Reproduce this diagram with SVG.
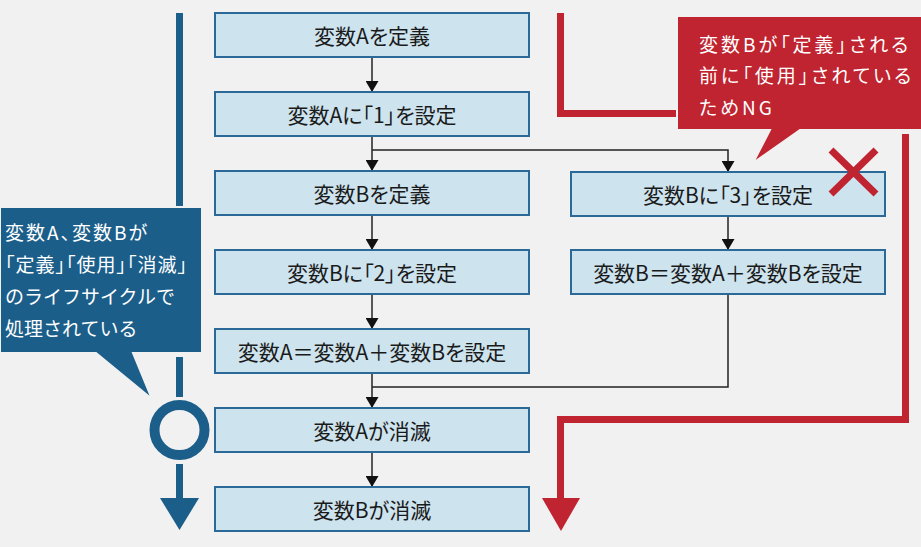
<svg xmlns="http://www.w3.org/2000/svg" width="921" height="547" viewBox="0 0 921 547">
<defs>
<style>
.box{fill:#cde3ee;stroke:#2b6a98;stroke-width:2}
.bt{font-family:"Noto Sans CJK JP","Noto Sans",sans-serif;font-size:21px;fill:#1a1a1a;text-anchor:middle;dominant-baseline:central;font-feature-settings:"palt"}
.conn{fill:none;stroke:#222;stroke-width:1.5}
.ct{font-family:"Noto Sans CJK JP","Noto Sans",sans-serif;font-size:19px;fill:#fff;dominant-baseline:central}
.p{font-feature-settings:"palt"}
</style>
<marker id="ah" viewBox="0 0 11 13" refX="11" refY="6.5" markerWidth="11" markerHeight="13" markerUnits="userSpaceOnUse" orient="auto">
<path d="M0,0 L11,6.5 L0,13 Z" fill="#111"/>
</marker>
</defs>
<rect x="0" y="0" width="921" height="547" fill="#f1f1f1"/>

<g id="lifeline-ok">
<path d="M179.5,13 V207 M179.5,357 V397 M179.5,464 V500" fill="none" stroke="#1c5e8a" stroke-width="7"/>
<circle cx="179.5" cy="430" r="25" fill="none" stroke="#1c5e8a" stroke-width="10"/>
<path d="M160,498 L199,498 L179.5,530 Z" fill="#1c5e8a"/>
</g>

<g id="lifeline-ng">
<path d="M560.5,13 V113.5 H678" fill="none" stroke="#bf2430" stroke-width="7"/>
<path d="M905.5,134 V419.5 H560.5 V500" fill="none" stroke="#bf2430" stroke-width="7"/>
<path d="M542,498 L580,498 L561,531 Z" fill="#bf2430"/>
</g>

<g id="connectors">
<path class="conn" d="M372,57 V92" marker-end="url(#ah)"/>
<path class="conn" d="M372,136 V171" marker-end="url(#ah)"/>
<path class="conn" d="M372,150 H728 V172" marker-end="url(#ah)"/>
<path class="conn" d="M372,215 V250" marker-end="url(#ah)"/>
<path class="conn" d="M372,294 V329" marker-end="url(#ah)"/>
<path class="conn" d="M372,373 V408" marker-end="url(#ah)"/>
<path class="conn" d="M728,217 V250" marker-end="url(#ah)"/>
<path class="conn" d="M728,294 V387 H372"/>
<path class="conn" d="M372,452 V487" marker-end="url(#ah)"/>
</g>

<g id="n1"><rect class="box" x="215" y="13" width="314" height="44"/><text class="bt" x="372" y="35">変数Aを定義</text></g>
<g id="n2"><rect class="box" x="215" y="92" width="314" height="44"/><text class="bt" x="372" y="114">変数Aに「1」を設定</text></g>
<g id="n3"><rect class="box" x="215" y="171" width="314" height="44"/><text class="bt" x="372" y="193">変数Bを定義</text></g>
<g id="n4"><rect class="box" x="215" y="250" width="314" height="44"/><text class="bt" x="372" y="272">変数Bに「2」を設定</text></g>
<g id="n5"><rect class="box" x="215" y="329" width="314" height="44"/><text class="bt" x="372" y="351">変数A＝変数A＋変数Bを設定</text></g>
<g id="n6"><rect class="box" x="215" y="408" width="314" height="44"/><text class="bt" x="372" y="430">変数Aが消滅</text></g>
<g id="n7"><rect class="box" x="215" y="487" width="314" height="44"/><text class="bt" x="372" y="509">変数Bが消滅</text></g>
<g id="n8"><rect class="box" x="571" y="172" width="314" height="44"/><text class="bt" x="728" y="194">変数Bに「3」を設定</text></g>
<g id="n9"><rect class="box" x="571" y="250" width="314" height="44"/><text class="bt" x="728" y="272">変数B＝変数A＋変数Bを設定</text></g>

<g id="ng-mark">
<path d="M831,150 L876,194 M876,150 L831,194" stroke="#bf2430" stroke-width="7"/>
</g>

<g id="callout-blue">
<path d="M0,207 H202 V353 H133 L152,399 L96,353 H0 Z" fill="#1c5e8a" stroke="#f1f1f1" stroke-width="2"/>
<text class="ct p" x="5" y="231" style="letter-spacing:2px">変数A、変数Bが</text>
<text class="ct p" x="5" y="263" style="letter-spacing:1px">「定義」「使用」「消滅」</text>
<text class="ct" x="5" y="295">のライフサイクルで</text>
<text class="ct" x="5" y="327">処理されている</text>
</g>

<g id="callout-red">
<path d="M677,16 H923 V130 H800 L753,163 L770,130 H677 Z" fill="#bf2430" stroke="#f1f1f1" stroke-width="2"/>
<text class="ct p" x="699" y="43" style="letter-spacing:3px">変数Bが「定義」される</text>
<text class="ct p" x="699" y="74" style="letter-spacing:3px">前に「使用」されている</text>
<text class="ct p" x="699" y="106" style="letter-spacing:3px">ためNG</text>
</g>
</svg>
